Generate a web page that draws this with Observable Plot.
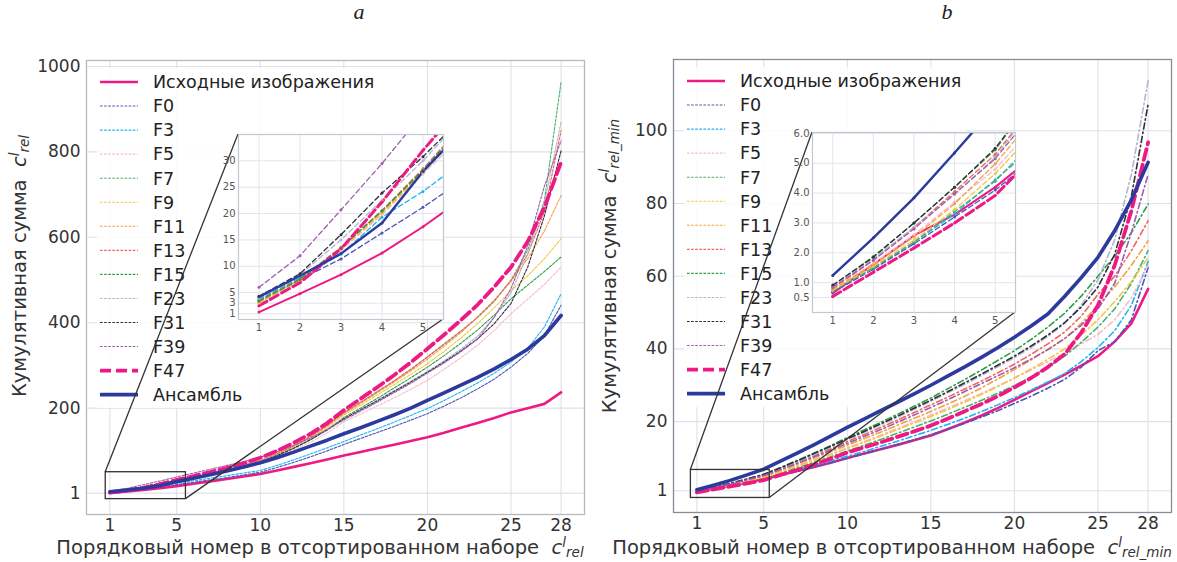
<!DOCTYPE html>
<html><head><meta charset="utf-8">
<script src="https://cdn.jsdelivr.net/npm/d3@7"></script>
<script src="https://cdn.jsdelivr.net/npm/@observablehq/plot@0.6"></script>
<style>
body{margin:0;background:#fff;}
#root{position:relative;width:1177px;height:562px;overflow:hidden;font-family:"DejaVu Sans",sans-serif;background:#fff;}
.abs{position:absolute;}
.ttl{position:absolute;font-family:"Liberation Serif",serif;font-style:italic;font-size:22px;line-height:1;color:#222;transform:translateX(-50%);}
</style></head><body><div id="root"></div>
<script>
// ---------- data ----------
const positions = [1,2,3,4,5,6,7,8,9,10,11,12,13,14,15,16,17,18,19,20,21,22,23,24,25,26,27,28];
const seriesNames = ["Исходные изображения","F0","F3","F5","F7","F9","F11","F13","F15","F23","F31","F39","F47","Ансамбль"];
const xTicks = [1,5,10,15,20,25,28];
const yTicksA = [1,200,400,600,800,1000];
const yTicksB = [1,20,40,60,80,100];
const insetXTicks = [1,2,3,4,5];
const insetYTicksA = [1,3,5,10,15,20,25,30];
const insetYTicksB = [0.5,1,2,3,4,5,6];
const panelTitles = ["a","b"];

// panel a: cumulative sum c_rel
const origA = [1.3,4.8,8.4,12.5,17.5,23,28.5,34,40,46,54,62.5,71,80,89,97.5,106,114.5,123,132,142.5,154,165,177,190,200,210,237];
const f0A  = [3.6,7.5,11.4,16.3,21.2,26.5,32,37.5,43.5,50,61,73,86,100,115,129,143,157,172,187,205,224,245,268,296,328,370,441];
const f3A  = [3.8,7.8,12.3,19.3,24.2,30,36,42,48,54,66,79,93,107,122,137,152,167,183,199,218,238,259,282,308,340,390,468];
const f5A  = [3.1,7.2,13,19.8,27.5,35,43,51,60,70,85,102,120,142,168,186,205,224,244,265,291,318,347,382,421,455,490,530];
const f7A  = [3.3,7.5,13.5,20.5,28.3,37,46,56,66,77,93,112,134,160,189,213,238,263,290,320,350,380,412,450,499,570,686,964];
const f9A  = [3.0,7.3,13.2,20,27.8,36.5,45.5,55,65,75,91,109,130,155,184,207,231,255,279,304,333,364,398,435,475,510,550,597];
const f11A = [3.2,7.4,13.4,20.3,28,36.8,46,55.5,65.5,76,92,111,132,158,187,211,236,261,287,315,345,377,413,452,497,550,615,698];
const f13A = [3.5,7.6,13.6,20.6,28.5,37.2,46.5,56,66.5,77,93,112,134,160,190,214,239,264,291,320,350,380,413,452,499,560,660,850];
const f15A = [3.4,7.5,13.5,20.5,28.2,36.8,45.5,55,64.5,74,89,106,126,150,178,200,223,247,271,296,323,352,383,418,456,488,520,554];
const f23A = [4,8.4,15,22.5,30,38.5,47,56,65.5,75,90,107,127,150,176,197,219,241,263,286,311,338,368,413,470,560,680,870];
const f31A = [4.3,8.6,16,23.9,30.8,38.5,46.5,55,64,74,89,106,126,149,175,196,217,239,261,284,308,334,362,398,445,530,650,803];
const f39A = [6,12,20.7,29.5,39,48,57,66,75,85,98,113,130,150,172,193,214,236,258,282,306,332,362,413,480,580,720,826];
const f47A = [2.5,6.9,13.3,22.2,32,41,50.5,60,71,84,100,119,140,165,195,222,249,277,307,339,372,406,442,484,530,590,670,776];
const ensA = [4.2,8.2,12.4,18.2,28,36,44,53,62,72,84,97,111,125,140,154,169,184,200,218,236,254,272,292,314,338,370,417];

// panel b: cumulative sum c_rel_min
const origB = [0.65,1.61,2.58,3.28,4.2,5.3,6.4,7.5,8.7,10.0,11.2,12.4,13.6,14.9,16.2,17.9,19.7,21.6,23.7,26.0,28.3,30.6,32.9,35.4,38.0,42.0,47.0,56.5];
const f0B  = [0.68,1.45,2.3,3.2,4.1,5.2,6.3,7.5,8.7,9.9,11.1,12.4,13.7,15.0,16.4,17.9,19.5,21.2,23.0,25.0,27.0,29.2,31.6,35.0,39.5,42.0,48.0,62.4];
const f3B  = [0.72,1.5,2.35,3.3,4.45,5.6,6.8,8.0,9.2,10.5,11.8,13.2,14.6,16.1,17.6,19.2,20.9,22.7,24.6,26.6,28.7,30.9,33.2,36.5,40.4,45.0,52.0,64.0];
const f5B  = [0.8,1.65,2.6,3.7,4.8,6.3,7.9,9.5,11.1,12.8,14.5,16.3,18.1,19.9,21.8,23.7,25.7,27.7,29.8,32.0,34.2,36.5,38.9,41.4,44.0,48.0,54.0,63.0];
const f7B  = [0.72,1.5,2.36,3.38,4.4,5.8,7.3,8.8,10.3,11.9,13.5,15.1,16.8,18.5,20.2,22.0,23.9,25.8,27.8,29.9,32.3,35.0,38.0,41.8,46.0,51.0,58.0,67.0];
const f9B  = [0.75,1.55,2.42,3.45,4.65,6.1,7.7,9.3,10.9,12.6,14.3,16.0,17.8,19.6,21.4,23.3,25.3,27.4,29.6,32.0,34.5,37.1,40.0,43.8,48.0,53.0,58.5,65.1];
const f11B = [0.78,1.6,2.53,3.64,4.98,6.6,8.3,10.0,11.7,13.5,15.3,17.1,19.0,20.9,22.8,24.8,26.9,29.2,31.7,34.3,37.0,39.8,42.8,47.0,52.0,57.0,63.0,69.7];
const f13B = [0.82,1.75,2.85,4.05,5.3,7.0,8.8,10.6,12.5,14.5,16.4,18.4,20.4,22.5,24.6,26.7,28.9,31.1,33.4,35.8,38.5,41.4,44.6,49.0,55.0,60.0,67.0,75.2];
const f15B = [0.9,1.88,3.0,4.2,5.45,7.3,9.3,11.3,13.4,15.6,17.7,19.8,22.0,24.2,26.5,29.0,31.5,34.1,36.8,39.5,42.6,46.0,49.8,54.5,60.0,65.5,72.0,79.8];
const f23B = [0.88,1.8,2.85,3.95,5.2,7.0,8.9,10.9,12.9,15.0,17.0,19.1,21.2,23.4,25.6,27.9,30.2,32.6,35.1,37.6,40.4,43.4,47.0,52.0,59.0,70.0,88.0,113.7];
const f31B = [0.92,1.85,3.0,4.2,5.5,7.3,9.2,11.2,13.2,15.3,17.3,19.4,21.5,23.7,25.9,28.2,30.6,33.0,35.5,38.0,40.8,43.8,47.2,51.5,57.0,66.0,82.0,107.3];
const f39B = [0.85,1.75,2.8,3.98,5.15,6.8,8.5,10.3,12.1,14.0,15.9,17.8,19.8,21.8,23.9,26.0,28.2,30.4,32.6,34.8,37.2,39.8,42.8,46.5,51.0,58.0,72.0,88.0];
const f47B = [0.54,1.35,2.16,3.0,3.92,5.3,6.7,8.2,9.8,11.5,12.9,14.3,15.8,17.3,18.9,20.8,22.8,24.8,27.0,29.4,32.0,35.0,38.5,44.5,52.0,63.0,78.0,96.8];
const ensB = [1.24,2.5,3.84,5.35,6.9,9.1,11.3,13.6,16.0,18.4,20.7,23.0,25.3,27.6,30.0,32.5,35.0,37.6,40.3,43.2,46.3,49.6,54.4,59.6,65.2,72.5,81.0,91.3];

const valuesA = [origA,f0A,f3A,f5A,f7A,f9A,f11A,f13A,f15A,f23A,f31A,f39A,f47A,ensA];
const valuesB = [origB,f0B,f3B,f5B,f7B,f9B,f11B,f13B,f15B,f23B,f31B,f39B,f47B,ensB];

// ---------- styles ----------
const colors = ["#ee1a83","#4c56b5","#1fb3f0","#f5bccb","#4caf6a","#f2c744","#f5a142","#f2645c","#2e9e46","#b3b5cc","#2f2f3a","#a05cad","#ee1a83","#2b3a9c"];
const font = "DejaVu Sans";

function styleFor(i, kind) {
  const name = seriesNames[i];
  if (i === 0) return {stroke: colors[i], strokeWidth: kind === "inset" ? 2 : 2.6};
  if (i === 13) return {stroke: colors[i], strokeWidth: kind === "inset" ? 2.4 : 3.6};
  if (name === "F47") return {stroke: colors[i], strokeWidth: kind === "inset" ? 3 : 3.8, strokeDasharray: kind === "inset" ? "9,4" : "11,5"};
  if (kind === "mainA" || kind === "legend") return {stroke: colors[i], strokeWidth: 1.1, strokeDasharray: "2.6,1.5"};
  if (kind === "mainB") return {stroke: colors[i], strokeWidth: 1.6, strokeDasharray: "6,3,1.5,3"};
  return {stroke: colors[i], strokeWidth: 1.3, strokeDasharray: "5,3"};
}

function rowsFor(values, n) {
  const rows = [];
  values.forEach((vals, i) => vals.slice(0, n).forEach((v, j) => rows.push({s: i, x: positions[j], y: v})));
  return rows;
}

const root = document.getElementById("root");

function panel(cfg) {
  const wrap = document.createElement("div");
  wrap.className = "abs";
  wrap.style.left = cfg.left + "px";
  wrap.style.top = "0px";
  wrap.style.width = "590px";
  wrap.style.height = "562px";
  root.appendChild(wrap);

  const rows = rowsFor(cfg.values, 28);
  const lineMarks = seriesNames.map((_, i) =>
    Plot.line(rows.filter(d => d.s === i), {x: "x", y: "y", ...styleFor(i, cfg.kind), strokeLinejoin: "round"}));

  const main = Plot.plot({
    width: 590, height: 562,
    marginLeft: 86, marginRight: 6, marginTop: cfg.top, marginBottom: cfg.bottom,
    style: {fontFamily: font, fontSize: "17px", color: "#333", background: "transparent"},
    x: {domain: [-0.4, 29.4]},
    y: {domain: cfg.yDomain},
    marks: [
      Plot.gridX(xTicks, {stroke: "#dde1e8", strokeOpacity: 1, strokeWidth: 1.1}),
      Plot.gridY(cfg.yTicks, {stroke: "#dde1e8", strokeOpacity: 1, strokeWidth: 1.1}),
      ...lineMarks,
      Plot.rect([cfg.zoomRect], {x1: "x1", x2: "x2", y1: "y1", y2: "y2", fill: "none", stroke: "#333", strokeWidth: 1.3}),
      Plot.frame({stroke: cfg.frameColor, strokeWidth: 1.3}),
      Plot.axisX(xTicks, {tickSize: 0, tickPadding: 4, fontSize: 17, fill: "#333", label: null}),
      Plot.axisY(cfg.yTicks, {tickSize: 0, tickPadding: 6, fontSize: 17, fill: "#333", label: null, tickFormat: d3.format("d")})
    ]
  });
  wrap.appendChild(main);
  const svg = d3.select(main);
  const sx = main.scale("x"), sy = main.scale("y");
  const frameLeft = 86, frameTop = cfg.top;

  // legend background goes under the curves (it only hides the grid)
  const groups = main.querySelectorAll(":scope > g");
  const bg = document.createElementNS("http://www.w3.org/2000/svg", "rect");
  bg.setAttribute("x", frameLeft + 11); bg.setAttribute("y", frameTop + 8);
  bg.setAttribute("width", 282); bg.setAttribute("height", 340);
  bg.setAttribute("fill", "white"); bg.setAttribute("fill-opacity", 0.85);
  main.insertBefore(bg, groups[2]);

  // legend
  const lg = svg.append("g").attr("text-anchor", "start");
  seriesNames.forEach((name, i) => {
    const y = frameTop + 22 + i * 24.05;
    const st = styleFor(i, "legend");
    lg.append("line").attr("x1", frameLeft + 14).attr("x2", frameLeft + 52).attr("y1", y).attr("y2", y)
      .attr("stroke", st.stroke).attr("stroke-width", st.strokeWidth)
      .attr("stroke-dasharray", st.strokeDasharray || null);
    lg.append("text").attr("x", frameLeft + 67).attr("y", y).attr("dy", "0.36em").attr("text-anchor", "start")
      .attr("font-family", font).attr("font-size", 17.5).attr("fill", "#222").text(name);
  });

  // inset
  const ins = cfg.inset;
  const irows = rowsFor(cfg.values, 6);
  const insetLines = seriesNames.map((_, i) =>
    Plot.line(irows.filter(d => d.s === i), {x: "x", y: "y", ...styleFor(i, "inset"), clip: true}));
  const insetDots = seriesNames.map((_, i) =>
    Plot.dot(irows.filter(d => d.s === i), {x: "x", y: "y", r: 1.5, fill: colors[i], stroke: "none", clip: true}));
  const mt = 8;
  const iw = ins.w + 26, ih = ins.h + 18 + mt;
  const insetPlot = Plot.plot({
    width: iw, height: ih,
    marginLeft: 24, marginRight: 2, marginTop: mt, marginBottom: 18,
    style: {fontFamily: font, fontSize: "10px", color: "#555", background: "transparent"},
    x: {domain: [0.5, 5.5]},
    y: {domain: ins.yDomain},
    marks: [
      Plot.frame({fill: "white", stroke: "none"}),
      Plot.gridX(insetXTicks, {stroke: "#e2e5ec", strokeOpacity: 1}),
      Plot.gridY(ins.yTicks, {stroke: "#e2e5ec", strokeOpacity: 1}),
      ...insetLines,
      ...insetDots,
      Plot.frame({stroke: "#c3c7cf", strokeWidth: 1.2}),
      Plot.axisX(insetXTicks, {tickSize: 0, tickPadding: 4, fontSize: 10, fill: "#555", label: null}),
      Plot.axisY(ins.yTicks, {tickSize: 0, tickPadding: 3, fontSize: 10, fill: "#555", label: null, tickFormat: ins.fmt})
    ]
  });
  const insDiv = document.createElement("div");
  insDiv.className = "abs";
  insDiv.style.left = (ins.x - 24) + "px";
  insDiv.style.top = (ins.y - mt) + "px";
  insDiv.appendChild(insetPlot);
  wrap.appendChild(insDiv);

  // connectors (rect corners via main scales -> inset frame corners)
  const r = cfg.zoomRect;
  const cg = svg.append("g").attr("stroke", "#333").attr("stroke-width", 1.3);
  cg.append("line").attr("x1", sx.apply(r.x1)).attr("y1", sy.apply(r.y2)).attr("x2", ins.x).attr("y2", ins.y);
  cg.append("line").attr("x1", sx.apply(r.x2)).attr("y1", sy.apply(r.y1)).attr("x2", ins.x + ins.w).attr("y2", ins.y + ins.h);

  // axis labels
  const ylab = svg.append("text").attr("transform", `translate(${cfg.ylabX},${cfg.ylabY}) rotate(-90)`)
    .attr("text-anchor", "middle").attr("font-family", font).attr("font-size", 19.5).attr("fill", "#333")
    .style("white-space", "pre");
  addMath(ylab, "Кумулятивная сумма  ", cfg.sub);
  const xlab = svg.append("text").attr("x", cfg.xlabX).attr("y", 554)
    .attr("text-anchor", "middle").attr("font-family", font).attr("font-size", 19.5).attr("fill", "#333")
    .style("white-space", "pre");
  addMath(xlab, "Порядковый номер в отсортированном наборе  ", cfg.sub);
}

function addMath(t, prefix, sub) {
  t.append("tspan").text(prefix);
  t.append("tspan").attr("font-style", "italic").text("c");
  t.append("tspan").attr("font-style", "italic").attr("font-size", 13.5).attr("dy", -7).text("l");
  t.append("tspan").attr("font-style", "italic").attr("font-size", 13.5).attr("dx", 0).attr("dy", 10).text(sub);
}

panel({
  left: 0, values: valuesA, kind: "mainA", top: 60, bottom: 48,
  yDomain: [-49, 1014], yTicks: yTicksA, frameColor: "#b4b8c1",
  zoomRect: {x1: 0.75, x2: 5.55, y1: -13, y2: 50},
  inset: {x: 238, y: 134, w: 205, h: 185, yDomain: [-0.1, 35], yTicks: insetYTicksA, fmt: d3.format("d")},
  sub: "rel", ylabX: 26, ylabY: 266, xlabX: 320
});
panel({
  left: 587, values: valuesB, kind: "mainB", top: 59, bottom: 50,
  yDomain: [-5, 119.6], yTicks: yTicksB, frameColor: "#858c97",
  zoomRect: {x1: 0.64, x2: 5.36, y1: -1, y2: 6.7},
  inset: {x: 225, y: 132, w: 203, h: 180, yDomain: [0, 6.03], yTicks: insetYTicksB, fmt: d3.format(".1f")},
  sub: "rel_min", ylabX: 29, ylabY: 266, xlabX: 305
});

// panel titles
[[359, panelTitles[0]], [947, panelTitles[1]]].forEach(([x, t]) => {
  const d = document.createElement("div");
  d.className = "ttl";
  d.style.left = x + "px";
  d.style.top = "1px";
  d.textContent = t;
  root.appendChild(d);
});
</script></body></html>
